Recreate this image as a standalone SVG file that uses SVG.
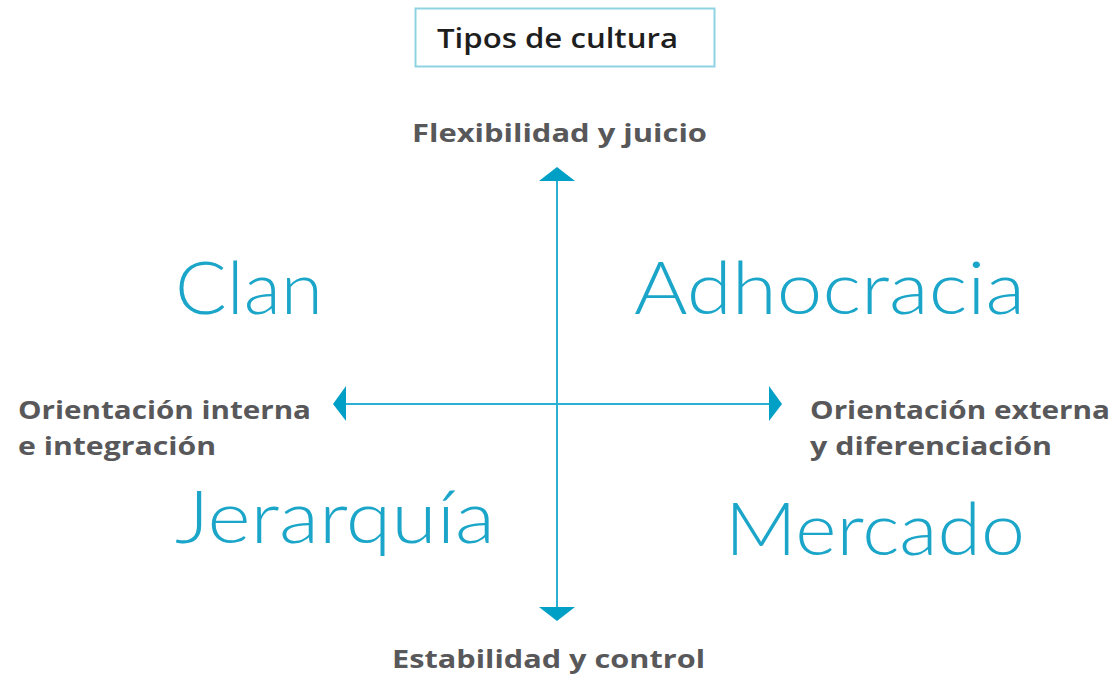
<svg xmlns="http://www.w3.org/2000/svg" width="1115" height="674" viewBox="0 0 1115 674">
<style>
.axis{font-family:"Open Sans","Liberation Sans",sans-serif;font-weight:700;font-size:25px;fill:#58585a}
.quad{font-family:Lato,"Open Sans","Liberation Sans",sans-serif;font-weight:300;font-size:72px;fill:#1ba6c9}
.title{font-family:"Open Sans","Liberation Sans",sans-serif;font-weight:600;font-size:27px;fill:#1e1e1e}
.line{stroke:#29b0d2;stroke-width:2;fill:none}
.head{fill:#00a0c6}
</style>
<rect width="1115" height="674" fill="#fff"/>
<g id="title">
<rect x="415.5" y="8.5" width="299" height="58" fill="#fff" stroke="#8fd3e2" stroke-width="2"/>
<text class="title" x="437" y="48" textLength="241" lengthAdjust="spacingAndGlyphs">Tipos de cultura</text>
</g>
<g id="connectors">
<line class="line" x1="557" y1="178" x2="557" y2="610"/>
<line class="line" x1="343" y1="404" x2="772" y2="404"/>
<polygon class="head" points="557,167 575,181 539,181"/>
<polygon class="head" points="557,621 575,607 539,607"/>
<polygon class="head" points="333,404 346,386 346,421"/>
<polygon class="head" points="782,404 769,386 769,421"/>
</g>
<g id="top-label"><text class="axis" x="412" y="142" textLength="295" lengthAdjust="spacingAndGlyphs">Flexibilidad y juicio</text></g>
<g id="bottom-label"><text class="axis" x="392" y="668" textLength="313" lengthAdjust="spacingAndGlyphs">Estabilidad y control</text></g>
<g id="left-label">
<text class="axis" x="18" y="419" textLength="293" lengthAdjust="spacingAndGlyphs">Orientación interna</text>
<text class="axis" x="18" y="455" textLength="198" lengthAdjust="spacingAndGlyphs">e integración</text>
</g>
<g id="right-label">
<text class="axis" x="810" y="419" textLength="300" lengthAdjust="spacingAndGlyphs">Orientación externa</text>
<text class="axis" x="810" y="455" textLength="242" lengthAdjust="spacingAndGlyphs">y diferenciación</text>
</g>
<g id="clan"><text class="quad" x="175" y="314" textLength="148" lengthAdjust="spacingAndGlyphs">Clan</text></g>
<g id="adhocracia"><text class="quad" x="634" y="314" textLength="391" lengthAdjust="spacingAndGlyphs">Adhocracia</text></g>
<g id="jerarquia"><text class="quad" x="175" y="543" textLength="320" lengthAdjust="spacingAndGlyphs">Jerarquía</text></g>
<g id="mercado"><text class="quad" x="725" y="555" textLength="300" lengthAdjust="spacingAndGlyphs">Mercado</text></g>
</svg>
